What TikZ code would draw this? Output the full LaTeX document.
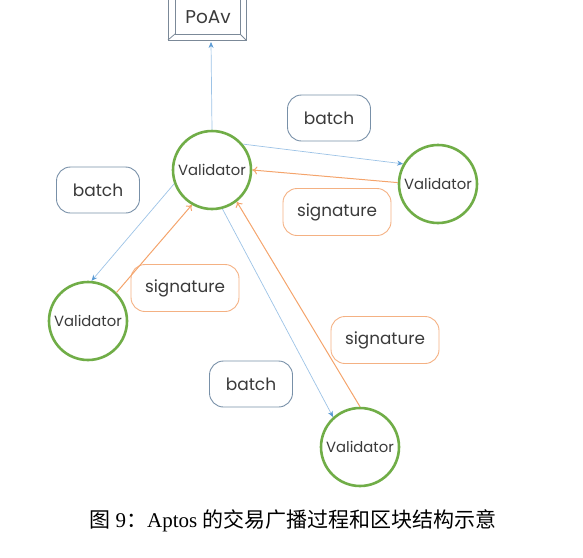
\documentclass[tikz,border=0pt]{standalone}
\usepackage{fontspec}
\setmainfont{Liberation Serif}
\newfontfamily\pop{Poppins}
\newfontfamily\cjk{Noto Sans CJK SC}
\usetikzlibrary{arrows.meta}
\definecolor{vgreen}{HTML}{70AD47}
\definecolor{bline}{HTML}{9DC3E6}
\definecolor{bhead}{HTML}{5B9BD5}
\definecolor{bbox}{HTML}{7890A8}
\definecolor{oline}{HTML}{F4A46C}
\definecolor{obox}{HTML}{F4B183}
\definecolor{txt}{HTML}{3A3A3A}
\begin{document}
\begin{tikzpicture}[x=1pt,y=-1pt,
  valid/.style={circle,draw=vgreen,line width=2.6pt,minimum size=78pt,inner sep=0pt,font=\pop\fontsize{14.8}{17}\selectfont,text=txt,fill=white},
  batchbox/.style={draw=bbox,rounded corners=14pt,line width=0.9pt,minimum width=83pt,minimum height=46pt,font=\pop\fontsize{17}{19}\selectfont,text=txt},
  sigbox/.style={draw=obox,rounded corners=14pt,line width=0.9pt,minimum width=108pt,minimum height=47pt,font=\pop\fontsize{16.8}{19}\selectfont,text=txt},
  barrow/.style={draw=bline,line width=0.7pt,-{Stealth[length=6pt,width=5pt,color=bhead]}},
  oarrow/.style={draw=oline,line width=1pt,-{To[length=5pt,width=8pt]}}
]
\useasboundingbox (0,0) rectangle (583,557);
% PoAv box
\draw[bbox!60!gray,line width=0.8pt] (168,-2) -- (168,40) -- (246,40) -- (246,-2);
\draw[bbox!60!gray,line width=0.8pt] (175,-2) -- (175,34) -- (240,34) -- (240,-2);
\draw[bbox!60!gray,line width=0.8pt] (168,40) -- (175,34) (246,40) -- (240,34);
\node[font=\pop\fontsize{18.5}{20}\selectfont,text=txt] (poav) at (208,17) {PoAv};
\coordinate (poavb) at (211,42);

\node[valid] (v1) at (212,170) {Validator};
\node[valid] (v2) at (438,184) {Validator};
\node[valid] (v3) at (88,321) {Validator};
\node[valid] (v4) at (360,447) {Validator};

\node[batchbox] (b1) at (329,118) {batch};
\node[batchbox] (b2) at (98,190) {batch};
\node[batchbox] (b3) at (251,384) {batch};
\node[sigbox] (s1) at (337,212) {signature};
\node[sigbox] (s2) at (185,288) {signature};
\node[sigbox] (s3) at (385,340) {signature};

\draw[barrow] (v1.north) -- (poavb);
\draw[barrow] (v1.40) -- (v2.150);
\draw[oarrow] (v2.178) -- (v1.0);
\draw[barrow] (v1.200) -- (v3.85);
\draw[oarrow] (v3.45) -- (v1.240);
\draw[barrow] (v1.285) -- (v4.132);
\draw[oarrow] (v4.90) -- (v1.308);

\node[font=\fontsize{21}{24}\selectfont] (cap) at (293,521) {{\cjk 图} 9{\cjk ：}Aptos {\cjk 的交易广播过程和区块结构示意}};
\end{tikzpicture}
\end{document}
